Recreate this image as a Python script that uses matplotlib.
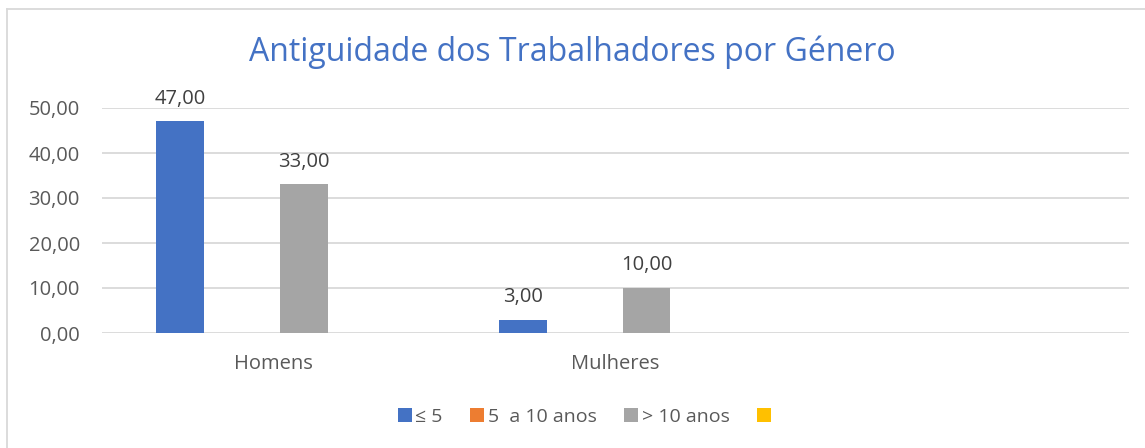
import numpy as np
import matplotlib.pyplot as plt
from matplotlib.lines import Line2D
from matplotlib.patches import Patch

plt.rcParams['font.family'] = ['Open Sans', 'DejaVu Sans']

# =========================
# Data
# =========================

categories = ["Homens", "Mulheres", ""]
series_names = ["≤ 5", "5  a 10 anos", "> 10 anos", ""]
le5 = [47.0, 3.0, np.nan]
from5to10 = [np.nan, np.nan, np.nan]
gt10 = [33.0, 10.0, np.nan]
unnamed = [np.nan, np.nan, np.nan]
y_ticks = [0, 10, 20, 30, 40, 50]

colors = ["#4472C4", "#ED7D31", "#A5A5A5", "#FFC000"]

# =========================
# Plotting
# =========================

fig = plt.figure(figsize=(11.45, 4.48), dpi=100)
ax = fig.add_axes([102 / 1145, 1 - 333 / 448, 1027 / 1145, 225 / 448])

x = np.arange(len(categories))
step = 0.181
width = 0.14
all_series = [le5, from5to10, gt10, unnamed]

for i, (vals, col) in enumerate(zip(all_series, colors)):
    pos = x + (i - 1.5) * step
    bars = ax.bar(pos, vals, width=width, color=col, zorder=3)
    for b, v in zip(bars, vals):
        if not np.isnan(v):
            ax.text(b.get_x() + b.get_width() / 2, v + 2.8, f"{v:.2f}".replace(".", ","),
                    ha="center", va="bottom", fontsize=14.5, color="#404040")

ax.set_xlim(-0.5, len(categories) - 0.5)
ax.set_ylim(0, 50)
ax.set_yticks(y_ticks)
ax.set_yticklabels([f"{t:.2f}".replace(".", ",") for t in y_ticks])
ax.set_xticks(x)
ax.set_xticklabels(categories)
ax.tick_params(axis="both", length=0, labelsize=14.5, labelcolor="#595959")
ax.tick_params(axis="y", pad=16)
ax.tick_params(axis="x", pad=15)
ax.grid(axis="y", color="#D9D9D9", linewidth=1.3, zorder=0)
ax.set_axisbelow(True)
for s in ax.spines.values():
    s.set_visible(False)

fig.text(0.5, 1 - 52 / 448, "Antiguidade dos Trabalhadores por Género",
         ha="center", va="center", fontsize=23, color="#4472C4")

handles = [Patch(facecolor=c) for c in colors]
fig.legend(handles, series_names, loc="center", bbox_to_anchor=(0.512, 1 - 417 / 448),
           ncol=4, frameon=False, fontsize=14, handlelength=0.72, handleheight=0.72,
           handletextpad=0.2, columnspacing=1.4, labelcolor="#595959")

# chart border (top and left visible)
fig.add_artist(Line2D([7 / 1145, 1.0], [1 - 9 / 448, 1 - 9 / 448],
                      transform=fig.transFigure, color="#D9D9D9", linewidth=1.3))
fig.add_artist(Line2D([7 / 1145, 7 / 1145], [0.0, 1 - 9 / 448],
                      transform=fig.transFigure, color="#D9D9D9", linewidth=1.3))

fig.savefig("out.png", dpi=100)
